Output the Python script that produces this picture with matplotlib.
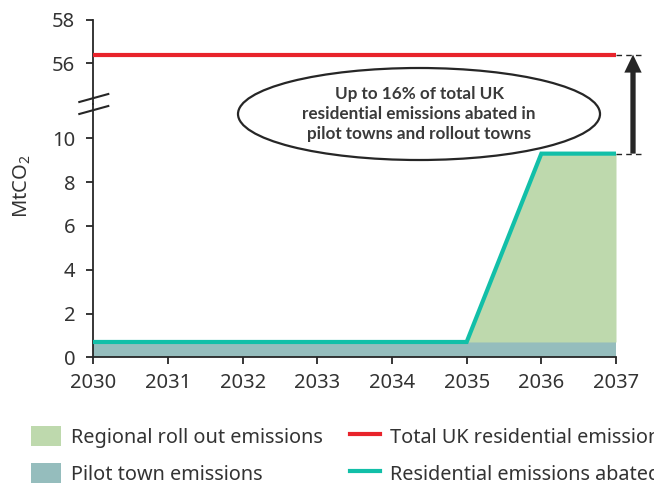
import matplotlib
matplotlib.use("Agg")
import matplotlib.pyplot as plt
import numpy as np
from matplotlib.patches import Ellipse, Patch
from matplotlib.lines import Line2D

plt.rcParams['font.family'] = ['Noto Sans', 'DejaVu Sans']
plt.rcParams['mathtext.default'] = 'regular'
TXT = '#333333'
AX = '#262626'
plt.rcParams['text.color'] = TXT
plt.rcParams['xtick.color'] = AX
plt.rcParams['ytick.color'] = AX
plt.rcParams['xtick.labelcolor'] = TXT
plt.rcParams['ytick.labelcolor'] = TXT

# ---- data ----
years = [2030, 2031, 2032, 2033, 2034, 2035, 2036, 2037]
total_uk = [56.4, 56.4, 56.4, 56.4, 56.4, 56.4, 56.4, 56.4]
abated = [0.7, 0.7, 0.7, 0.7, 0.7, 0.7, 9.3, 9.3]
pilot = [0.7, 0.7, 0.7, 0.7, 0.7, 0.7, 0.7, 0.7]
regional = [a - p for a, p in zip(abated, pilot)]
bottom_ticks = [0, 2, 4, 6, 8, 10]
top_ticks = [56, 58]
annotation = "Up to 16% of total UK\nresidential emissions abated in\npilot towns and rollout towns"

C_RED = '#E8232B'
C_CYAN = '#12BFA8'
C_GREEN = '#BED9AD'
C_PILOT = '#95BDBD'

W, H = 654, 491
fig = plt.figure(figsize=(W / 100, H / 100), dpi=100)

left = 93.3 / W
width = (616 - 93.3) / W
y_axis0 = 357.3
y_break = 104
y_top = 19.5
ppu = 21.9

ax_bot = fig.add_axes([left, 1 - y_axis0 / H, width, (y_axis0 - y_break) / H])
ax_top = fig.add_axes([left, 1 - y_break / H, width, (y_break - y_top) / H])

bot_max = (y_axis0 - y_break) / ppu
top_min = 58 - (y_break - y_top) / ppu

TFS = 14.5
for ax in (ax_bot, ax_top):
    ax.set_xlim(years[0], years[-1])
    ax.patch.set_visible(False)
    for s in ('top', 'right'):
        ax.spines[s].set_visible(False)
    ax.spines['left'].set_color(AX)
    ax.spines['left'].set_linewidth(1.3)
    ax.tick_params(axis='y', length=5, width=1.3, pad=8, labelsize=TFS)
ax_bot.set_zorder(3)

ax_bot.set_ylim(0, bot_max)
ax_top.set_ylim(top_min, 58)
ax_top.spines['bottom'].set_visible(False)
ax_top.set_xticks([])
ax_top.set_yticks(top_ticks)

ax_bot.set_yticks(bottom_ticks)
ax_bot.set_xticks(years)
ax_bot.set_xticklabels([str(y) for y in years])
ax_bot.spines['bottom'].set_color(AX)
ax_bot.spines['bottom'].set_linewidth(1.3)
ax_bot.tick_params(axis='x', length=5, width=1.3, pad=6, labelsize=TFS)

# fills and lines
ax_bot.fill_between(years, 0, pilot, color=C_PILOT, lw=0, zorder=1)
ax_bot.fill_between(years, pilot, [p + r for p, r in zip(pilot, regional)],
                    color=C_GREEN, lw=0, zorder=1)
ax_bot.plot(years, abated, color=C_CYAN, lw=3, zorder=3, solid_joinstyle='miter')
ax_top.plot(years, total_uk, color=C_RED, lw=3, zorder=3)

# dashed leaders to arrow
x_end = years[-1] + 26 / 74.67
x_arrow = years[-1] + 17 / 74.67
ax_top.plot([years[-1], x_end], [total_uk[-1]] * 2, color=AX, lw=1, ls=(0, (4, 3)), clip_on=False)
ax_bot.plot([years[-1], x_end], [abated[-1]] * 2, color=AX, lw=1, ls=(0, (4, 3)), clip_on=False)

# arrow spanning both axes
ax_bot.annotate('', xy=(x_arrow, total_uk[-1]), xycoords=ax_top.transData,
                xytext=(x_arrow, abated[-1]), textcoords=ax_bot.transData,
                arrowprops=dict(width=3.8, headwidth=12.5, headlength=13, shrink=0,
                                color=AX, lw=0),
                annotation_clip=False)

# break marks on axis
for yb in (98, 110):
    yv = (y_axis0 - yb) / ppu
    ax_bot.plot([years[0] - 14 / 74.67, years[0] + 15 / 74.67],
                [yv - 4 / ppu, yv + 4 / ppu], color=AX, lw=1.5, clip_on=False, zorder=5)

# ellipse with text
ex = years[0] + (419 - 93.3) / 74.67
ey = (y_axis0 - 114) / ppu
ell = Ellipse((ex, ey), 362 / 74.67, 92 / ppu, facecolor='white', edgecolor=AX,
              lw=1.6, clip_on=False, zorder=6)
ax_bot.add_patch(ell)
ax_bot.text(ex, ey, annotation, ha='center', va='center', fontsize=12.3,
            fontweight='bold', family=['Lato', 'DejaVu Sans'], color='#3a3a3a',
            linespacing=1.3, zorder=7, clip_on=False)

# y label
fig.text(22 / W, 1 - 186 / H, 'MtCO$_2$', rotation=90, ha='center', va='center',
         fontsize=TFS, color=TXT)

# legends
fs = 14.3
h1 = [Patch(facecolor=C_GREEN, edgecolor='none'), Patch(facecolor=C_PILOT, edgecolor='none')]
l1 = ['Regional roll out emissions', 'Pilot town emissions']
h2 = [Line2D([], [], color=C_RED, lw=3), Line2D([], [], color=C_CYAN, lw=3)]
l2 = ['Total UK residential emissions', 'Residential emissions abated']
common = dict(loc='upper left', frameon=False, fontsize=fs, borderpad=0, borderaxespad=0,
              handlelength=1.5, handleheight=1.15, handletextpad=0.5, labelspacing=0.78)
leg1 = fig.legend(h1, l1, bbox_to_anchor=(31 / W, 1 - 426 / H), **common)
leg2 = fig.legend(h2, l2, bbox_to_anchor=(350 / W, 1 - 426 / H), **common)

fig.savefig('out.png', dpi=100)
